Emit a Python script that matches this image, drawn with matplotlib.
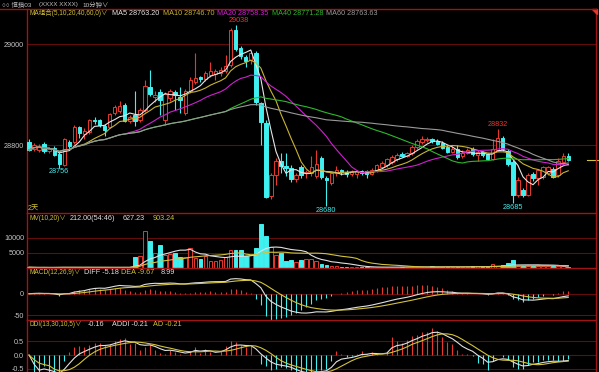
import numpy as np
import pandas as pd
import matplotlib
matplotlib.use("Agg")
from matplotlib import pyplot as plt

plt.rcParams['font.family'] = ['Liberation Sans', 'Noto Sans CJK SC', 'DejaVu Sans']

# 10-minute bars
opens = [28807, 28792, 28790, 28802, 28788, 28794, 28782, 28761, 28807, 28806,
         28836, 28823, 28827, 28851, 28850, 28838, 28837, 28865, 28868, 28879,
         28849, 28860, 28850, 28869, 28916, 28895, 28906, 28850, 28893, 28906,
         28896, 28865, 28908, 28926, 28935, 28931, 28939, 28942, 28943, 28948,
         28959, 29028, 28992, 28974, 28969, 28982, 28883, 28845, 28700, 28741,
         28768, 28760, 28756, 28733, 28758, 28745, 28745, 28740, 28774, 28735,
         28725, 28745, 28751, 28748, 28744, 28744, 28749, 28749, 28744, 28752,
         28758, 28762, 28767, 28772, 28783, 28779, 28784, 28796, 28806, 28810,
         28812, 28809, 28805, 28797, 28787, 28792, 28778, 28785, 28792, 28780,
         28786, 28782, 28773, 28790, 28814, 28789, 28767, 28702, 28712, 28702,
         28743, 28735, 28738, 28745, 28754, 28741, 28767, 28778]
highs = [28813, 28804, 28802, 28807, 28796, 28798, 28786, 28815, 28810, 28840,
         28839, 28834, 28853, 28856, 28853, 28842, 28865, 28880, 28888, 28883,
         28860, 28908, 28873, 28930, 28950, 28908, 28912, 28906, 28912, 28910,
         28915, 28912, 28935, 28982, 28938, 28947, 28966, 28952, 28955, 28978,
         29032, 29038, 28996, 28978, 28985, 28986, 28886, 28850, 28745, 28774,
         28784, 28784, 28762, 28746, 28762, 28752, 28778, 28790, 28778, 28740,
         28748, 28760, 28754, 28752, 28751, 28752, 28752, 28752, 28755, 28764,
         28768, 28775, 28780, 28784, 28786, 28787, 28800, 28812, 28818, 28816,
         28815, 28812, 28808, 28800, 28798, 28800, 28790, 28795, 28797, 28790,
         28789, 28785, 28812, 28832, 28818, 28792, 28770, 28738, 28715, 28745,
         28748, 28754, 28760, 28760, 28758, 28775, 28785, 28785]
lows = [28788, 28789, 28786, 28784, 28785, 28779, 28756, 28759, 28790, 28803,
        28815, 28812, 28822, 28843, 28836, 28818, 28834, 28860, 28864, 28846,
        28845, 28838, 28846, 28866, 28898, 28885, 28860, 28840, 28888, 28870,
        28865, 28860, 28903, 28922, 28926, 28928, 28935, 28930, 28938, 28944,
        28955, 28986, 28970, 28955, 28962, 28880, 28800, 28695, 28693, 28722,
        28745, 28740, 28728, 28728, 28735, 28735, 28740, 28735, 28734, 28680,
        28722, 28740, 28742, 28738, 28740, 28735, 28742, 28735, 28741, 28748,
        28755, 28758, 28764, 28769, 28776, 28776, 28780, 28793, 28803, 28806,
        28805, 28800, 28792, 28784, 28784, 28773, 28775, 28782, 28779, 28768,
        28777, 28770, 28771, 28788, 28788, 28760, 28685, 28698, 28698, 28700,
        28730, 28722, 28734, 28742, 28735, 28738, 28764, 28768]
closes = [28791, 28800, 28798, 28789, 28792, 28781, 28764, 28812, 28799, 28836,
          28824, 28829, 28851, 28848, 28840, 28830, 28862, 28875, 28877, 28849,
          28857, 28849, 28869, 28918, 28902, 28900, 28890, 28902, 28908, 28900,
          28890, 28908, 28929, 28933, 28931, 28943, 28948, 28947, 28949, 28958,
          29028, 28990, 28976, 28968, 28982, 28886, 28847, 28698, 28741, 28768,
          28760, 28756, 28733, 28742, 28741, 28748, 28758, 28764, 28738, 28732,
          28745, 28751, 28747, 28744, 28748, 28749, 28745, 28744, 28752, 28761,
          28765, 28772, 28777, 28781, 28779, 28784, 28796, 28808, 28812, 28813,
          28808, 28802, 28795, 28787, 28792, 28776, 28785, 28790, 28782, 28786,
          28781, 28773, 28792, 28814, 28792, 28763, 28701, 28732, 28701, 28741,
          28735, 28751, 28757, 28757, 28737, 28768, 28778, 28771]
volumes = [260, 180, 150, 220, 140, 200, 310, 330, 180, 260,
           210, 160, 240, 130, 170, 190, 230, 250, 200, 280,
           190, 3660, 4000, 12200, 8900, 5100, 7800, 4400, 4800, 5000,
           3660, 3660, 6660, 3300, 2900, 4000, 2200, 2200, 2550, 3660,
           6100, 5900, 6100, 4000, 4200, 6800, 14800, 10500, 7000, 4400,
           5000, 2200, 2800, 2000, 2550, 2900, 3100, 2200, 1450, 1100,
           550, 550, 300, 250, 200, 280, 220, 260, 300, 350,
           320, 380, 300, 280, 400, 420, 380, 300, 350, 320,
           550, 380, 300, 400, 350, 300, 380, 420, 600, 550,
           600, 650, 1200, 700, 900, 1500, 2550, 800, 800, 700,
           600, 700, 650, 600, 650, 700, 600, 212]

ma_periods = [5, 10, 20, 40, 60]
ma_colors = ['#e6e6e6', '#c8b432', '#d020d0', '#2cb82c', '#9a9a9a']

W, H = 599, 372
RED = '#e8382e'
CYAN = '#3ff0f0'
GRID = '#640c0c'
BORDER = '#a01414'
TXT = '#c4c4c4'
YEL = '#d2c23c'
WHITE = '#e0e0e0'
FS = 5.2
FS_NAME = 4.7

o = np.array(opens, float)
h = np.array(highs, float)
l = np.array(lows, float)
c = np.array(closes, float)
v = np.array(volumes, float)
n = len(c)
x = np.arange(n)
up = c >= o
edge = np.where(up, RED, CYAN)
face = np.where(up, 'black', CYAN)
cs = pd.Series(c)

# indicators
dif = cs.ewm(span=12, adjust=False).mean() - cs.ewm(span=26, adjust=False).mean()
dea = dif.ewm(span=9, adjust=False).mean()
macd = 2 * (dif - dea)

hs, ls = pd.Series(h), pd.Series(l)
tr = np.maximum((hs - hs.shift(1)).abs(), (ls - ls.shift(1)).abs()).fillna(0)
hl, hlp = hs + ls, (hs + ls).shift(1)
dmz = tr.where(hl > hlp, 0)
dmf = tr.where(hl < hlp, 0)
sz = dmz.rolling(13, min_periods=1).sum()
sf = dmf.rolling(13, min_periods=1).sum()
tot = (sz + sf).replace(0, np.nan)
ddi = ((sz - sf) / tot).fillna(0)
addi = ddi.ewm(alpha=10 / 30, adjust=False).mean()
ad = addi.rolling(5, min_periods=1).mean()


def box(x0, y0, x1, y1):
    return [x0 / W, 1 - y1 / H, (x1 - x0) / W, (y1 - y0) / H]


def style(ax, ticks, labels, ylim):
    ax.set_facecolor('black')
    for s in ['top', 'bottom']:
        ax.spines[s].set_visible(False)
    for s in ['left', 'right']:
        ax.spines[s].set_color(BORDER)
        ax.spines[s].set_linewidth(1.0)
    ax.set_xticks([])
    ax.set_yticks(ticks)
    ax.set_yticklabels(labels, fontsize=FS, color=TXT)
    ax.tick_params(axis='y', length=0, pad=2)
    for t in ticks:
        ax.axhline(t, color=GRID, lw=0.8, zorder=0)
    ax.set_xlim(-0.4, 112.5)
    ax.set_ylim(*ylim)


def label(px, py, s, color, size=FS):
    fig.text(px / W, 1 - py / H, s, color=color, fontsize=size, ha='left', va='center')


fig = plt.figure(figsize=(W / 100, H / 100), dpi=100, facecolor='black')

# price pane
ax = fig.add_axes(box(27, 9, 596, 213))
style(ax, [28800, 29000], ['28800', '29000'], (28666, 29070))
ax.vlines(x, l, h, colors=edge, lw=0.8, zorder=2)
body_lo = np.minimum(o, c)
body_h = np.maximum(np.abs(c - o), 0.8)
ax.bar(x, body_h, bottom=body_lo, width=0.68, color=face, edgecolor=edge, lw=0.7, zorder=3)
for p, col in zip(ma_periods, ma_colors):
    ax.plot(x, cs.rolling(p, min_periods=1).mean(), color=col, lw=0.8, zorder=4)

i_hi = int(np.argmax(h))
ax.annotate(f'{h[i_hi]:.0f}', (i_hi, h[i_hi]), xytext=(2, 0.5), textcoords='offset points',
            ha='center', va='bottom', color=RED, fontsize=FS)
for lo, hi_ in [(0, 20), (40, 80), (90, n)]:
    j = lo + int(np.argmin(l[lo:hi_]))
    ax.annotate(f'{l[j]:.0f}', (j, l[j]), xytext=(0, -0.5), textcoords='offset points',
                ha='center', va='top', color=CYAN, fontsize=FS, annotation_clip=False)
j = 85 + int(np.argmax(h[85:]))
ax.annotate(f'{h[j]:.0f}', (j, h[j]), xytext=(0, 1), textcoords='offset points',
            ha='center', va='bottom', color=RED, fontsize=FS)
ax.plot([1.0 - 0.015, 1.012], [c[-1], c[-1]], transform=ax.get_yaxis_transform(),
        color=YEL, lw=0.8, clip_on=False)

# volume pane
axv = fig.add_axes(box(27, 213, 596, 268))
style(axv, [0, 5000, 10000], ['', '5000', '10000'], (0, 18333))
axv.bar(x, v, width=0.72, color=face, edgecolor=edge, lw=0.7, zorder=3)
vs = pd.Series(v)
axv.plot(x, vs.rolling(10, min_periods=1).mean(), color=WHITE, lw=0.8, zorder=4)
axv.plot(x, vs.rolling(20, min_periods=1).mean(), color=YEL, lw=0.8, zorder=4)

# MACD pane
axm = fig.add_axes(box(27, 268, 596, 320))
style(axm, [-50, 0], ['-50', '0'], (-61.7, 60.4))
axm.vlines(x, 0, macd, colors=np.where(macd >= 0, RED, CYAN), lw=0.8, zorder=2)
axm.plot(x, dif, color=WHITE, lw=0.8, zorder=3)
axm.plot(x, dea, color=YEL, lw=0.8, zorder=3)

# DDI pane
axd = fig.add_axes(box(27, 320, 596, 372))
style(axd, [-0.5, 0.0, 0.5], ['-0.5', '0.0', '0.5'], (-0.62, 1.28))
axd.vlines(x, 0, ddi, colors=np.where(ddi >= 0, RED, CYAN), lw=0.8, zorder=2)
axd.plot(x, addi, color=WHITE, lw=0.8, zorder=3)
axd.plot(x, ad, color=YEL, lw=0.8, zorder=3)

# frame lines
for yy in [9, 213, 268, 320]:
    fig.add_artist(plt.Line2D([0 if yy == 9 else 27 / W, 596 / W], [1 - yy / H] * 2,
                              color=BORDER, lw=1.0))
fig.add_artist(plt.Polygon([[592 / W, 1 - 9 / H], [597 / W, 1 - 9 / H], [597 / W, 1 - 14 / H]],
                           closed=True, color=RED))

# header texts
label(2, 4.5, '○○ 恒指03', TXT, 4.6)
label(39, 4.5, '(XXXX XXXX)', TXT, 4.4)
label(82, 4.5, '10分钟∨', TXT, 4.6)
label(29, 13.5, 'MA组合(5,10,20,40,60,0)∨', YEL, FS_NAME)
label(112, 13.5, 'MA5 28763.20', ma_colors[0])
label(163, 13.5, 'MA10 28746.70', ma_colors[1])
label(217, 13.5, 'MA20 28758.35', ma_colors[2])
label(272, 13.5, 'MA40 28771.28', ma_colors[3])
label(326, 13.5, 'MA60 28763.63', ma_colors[4])
label(28, 209, '2天', YEL)
label(29, 219, 'MV(10,20)∨', YEL, FS_NAME)
label(70, 219, '212.00(54:46)', WHITE)
label(123, 219, '627.23', WHITE)
label(153, 219, '903.24', YEL)
label(29, 273, 'MACD(12,26,9)∨', YEL, FS_NAME)
label(84, 273, 'DIFF -5.18', WHITE)
label(121, 273, 'DEA -9.67', YEL)
label(161, 273, '8.99', WHITE)
label(29, 325, 'DDI(13,30,10,5)∨', YEL, FS_NAME)
label(88, 325, '-0.16', WHITE)
label(112, 325, 'ADDI -0.21', WHITE)
label(153, 325, 'AD -0.21', YEL)

fig.savefig('out.png', dpi=100, facecolor='black')
